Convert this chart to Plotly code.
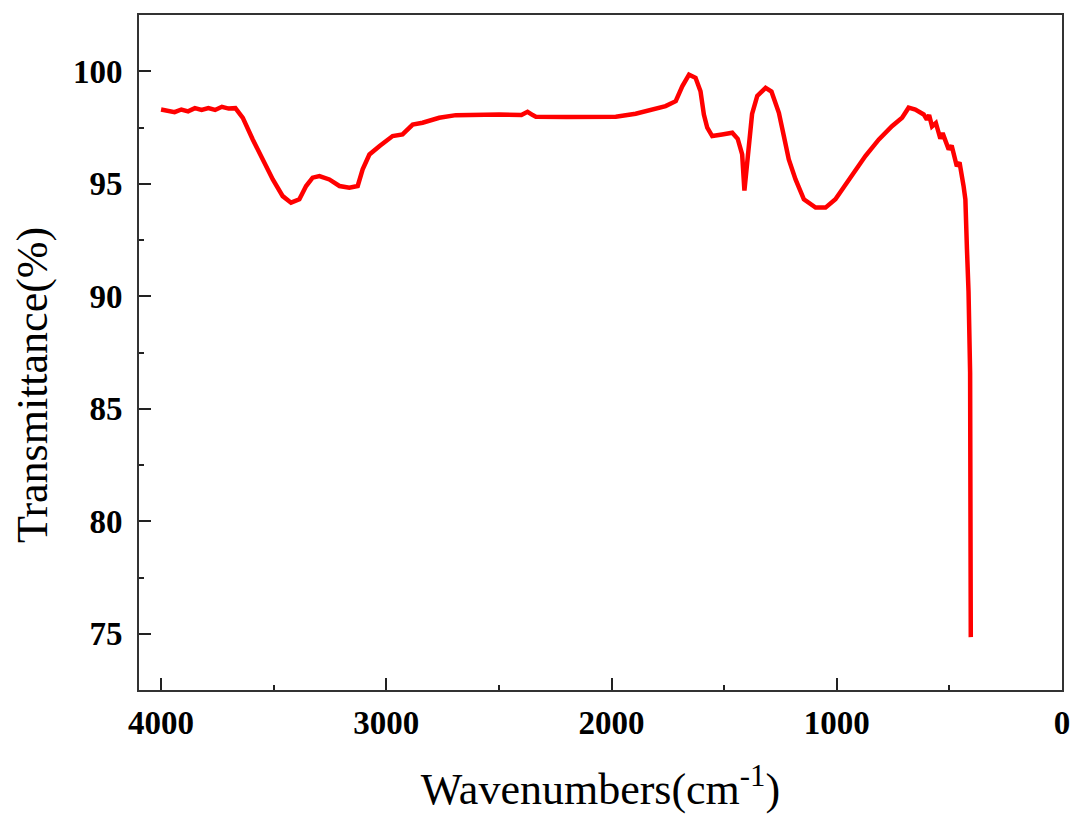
import plotly.graph_objects as go

wavenumber = [4000, 3970, 3940, 3910, 3880, 3850, 3820, 3790, 3760, 3730, 3700, 3670, 3650,
              3637, 3593, 3549, 3504, 3460, 3423, 3386, 3356, 3327, 3297, 3253, 3208, 3164,
              3127, 3105, 3075, 3031, 2972, 2928, 2883, 2839, 2765, 2691, 2600, 2499, 2400,
              2373, 2350, 2336, 2200, 2130, 2050, 1981, 1893, 1834, 1760, 1715, 1686, 1656,
              1627, 1605, 1590, 1575, 1553, 1509, 1464, 1440, 1420, 1410, 1398, 1376, 1353,
              1316, 1290, 1257, 1235, 1213, 1183, 1146, 1094, 1050, 1006, 961, 917, 873, 813,
              755, 710, 681, 651, 614, 600, 590, 577, 560, 540, 530, 503, 490, 467, 455, 437,
              429, 422, 415, 408, 405]
transmittance = [98.30, 98.22, 98.18, 98.30, 98.22, 98.36, 98.28, 98.36, 98.28, 98.42, 98.34,
                 98.36, 98.10, 97.93, 96.97, 96.08, 95.19, 94.45, 94.16, 94.31, 94.90, 95.27,
                 95.34, 95.19, 94.90, 94.82, 94.90, 95.64, 96.30, 96.67, 97.12, 97.19, 97.63,
                 97.71, 97.93, 98.05, 98.08, 98.08, 98.06, 98.20, 98.05, 97.98, 97.97, 97.96,
                 97.96, 97.98, 98.11, 98.26, 98.45, 98.67, 99.33, 99.85, 99.71, 99.11, 98.08,
                 97.49, 97.12, 97.19, 97.27, 97.00, 96.30, 94.70, 96.00, 98.10, 98.90, 99.26,
                 99.10, 98.15, 97.12, 96.08, 95.19, 94.31, 93.94, 93.94, 94.31, 94.97, 95.64,
                 96.23, 96.97, 97.56, 97.93, 98.38, 98.30, 98.08, 97.85, 98.05, 97.55, 97.70,
                 97.00, 97.25, 96.52, 96.70, 95.78, 95.95, 94.90, 94.30, 92.10, 90.20, 86.60,
                 74.85]

x_ticks = [4000, 3000, 2000, 1000, 0]
y_ticks = [75, 80, 85, 90, 95, 100]

fig = go.Figure()
fig.add_trace(go.Scatter(
    x=wavenumber, y=transmittance, mode="lines",
    line=dict(color="#ff0000", width=4.5), showlegend=False,
))

tick_font = dict(family="Liberation Serif", size=33, color="black", weight="bold")
title_font = dict(family="Liberation Serif", size=44, color="black")

fig.update_layout(
    width=1073, height=825,
    margin=dict(l=139, r=11, t=15, b=135),
    paper_bgcolor="white", plot_bgcolor="white",
    xaxis=dict(
        range=[4098, 0], tickvals=x_ticks, ticktext=[str(v) for v in x_ticks],
        ticks="inside", ticklen=12, tickwidth=2, tickcolor="#222",
        minor=dict(ticks="inside", ticklen=5, tickwidth=2, tickcolor="#222", dtick=500, tick0=0),
        showline=True, linecolor="#333", linewidth=2, mirror=True, automargin=False,
        showgrid=False, zeroline=False, tickfont=tick_font, ticklabelstandoff=2,
        ticklabeloverflow="allow",
        title=dict(text="Wavenumbers(cm<sup>-1</sup>)", font=title_font, standoff=34),
    ),
    yaxis=dict(
        range=[72.5, 102.5], tickvals=y_ticks, ticktext=[str(v) for v in y_ticks],
        ticks="inside", ticklen=12, tickwidth=2, tickcolor="#222",
        minor=dict(ticks="inside", ticklen=5, tickwidth=2, tickcolor="#222", dtick=2.5, tick0=0),
        showline=True, linecolor="#333", linewidth=2, mirror=True, automargin=False,
        showgrid=False, zeroline=False, tickfont=tick_font, ticklabelstandoff=8,
        ticklabeloverflow="allow",
    ),
    annotations=[dict(
        text="Transmittance(%)", font=title_font, textangle=-90,
        xref="paper", yref="paper", x=-0.1148, y=0.452,
        xanchor="center", yanchor="middle", showarrow=False,
    )],
)

fig.write_html(
    "out.html",
    config={"displayModeBar": False},
    post_script="document.body.style.margin='0';document.body.style.overflow='hidden';",
)
